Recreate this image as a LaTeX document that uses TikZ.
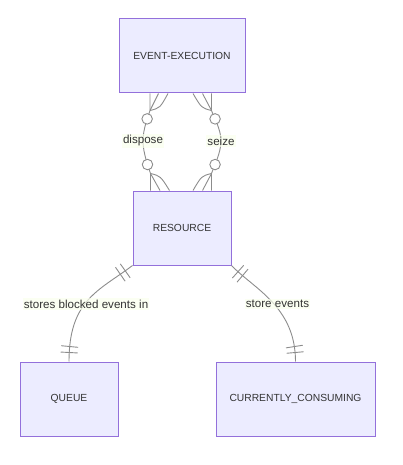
\documentclass[tikz,border=0pt]{standalone}
\usepackage{fontspec}
\setmainfont{Liberation Sans}
\usetikzlibrary{calc,decorations.markings}
\definecolor{entfill}{HTML}{ECECFF}
\definecolor{entdraw}{HTML}{9370DB}
\definecolor{relline}{HTML}{8C8C8C}
\definecolor{txt}{HTML}{333333}
\definecolor{lblbg}{RGB}{249,255,236}
\begin{document}
\begin{tikzpicture}[x=1pt,y=-1pt,
  ent/.style={draw=entdraw,fill=entfill,line width=1pt,text=txt,
    font=\fontsize{10.3pt}{12pt}\selectfont,inner sep=0pt},
  rel/.style={draw=relline,line width=0.9pt},
  lbl/.style={fill=lblbg,fill opacity=0.7,text opacity=1,text=txt,
    font=\fontsize{11.6pt}{13pt}\selectfont,inner xsep=1pt,inner ysep=1.5pt},
  zc/.style={circle,draw=relline,fill=white,line width=0.9pt,minimum size=10.5pt,inner sep=0pt},
  onebars/.style={postaction={decorate},decoration={markings,
    mark=at position 9pt with {\draw[rel] (0pt,-8.5pt) -- (0pt,8.5pt);},
    mark=at position 15pt with {\draw[rel] (0pt,-8.5pt) -- (0pt,8.5pt);},
    mark=at position -9pt with {\draw[rel] (0pt,-8.5pt) -- (0pt,8.5pt);},
    mark=at position -15pt with {\draw[rel] (0pt,-8.5pt) -- (0pt,8.5pt);}}}
]
\useasboundingbox (0,0) rectangle (402,465);

% entities
\node[ent,minimum width=126pt,minimum height=74pt] (ee) at (182,56) {EVENT-EXECUTION};
\node[ent,minimum width=98pt,minimum height=74pt] (res) at (182,228) {RESOURCE};
\node[ent,minimum width=98pt,minimum height=74pt] (queue) at (69,399) {QUEUE};
\node[ent,minimum width=159pt,minimum height=74pt] (cc) at (295.5,399) {CURRENTLY\_CONSUMING};

% anchor points of the many-to-many edges
\coordinate (dA) at ($(ee.south west)+(31.5,0)$);
\coordinate (dB) at ($(res.north west)+(18,0)$);
\coordinate (sA) at ($(ee.south west)+(93,0)$);
\coordinate (sB) at ($(res.north west)+(79,0)$);
\coordinate (dAt) at ($(dA)+(0,17)$);
\coordinate (dBt) at ($(dB)+(0,-17)$);
\coordinate (sAt) at ($(sA)+(0,17)$);
\coordinate (sBt) at ($(sB)+(0,-17)$);
\coordinate (dm) at (143,141);
\coordinate (sm) at (221,141);

% crow's feet
\draw[rel] (dAt) -- ($(dA)+(8.5,0)$);
\draw[rel] (dAt) .. controls ($(dA)+(10,14.5)$) .. ($(dA)+(18,0)$);
\draw[rel] (dBt) -- ($(dB)+(9.5,0)$);
\draw[rel] (dBt) .. controls ($(dB)+(10,-14.5)$) .. ($(dB)+(19,0)$);
\draw[rel] (sAt) -- ($(sA)+(-9,0)$);
\draw[rel] (sAt) .. controls ($(sA)+(-10,14.5)$) .. ($(sA)+(-18.5,0)$);
\draw[rel] (sBt) -- ($(sB)+(-9,0)$);
\draw[rel] (sBt) .. controls ($(sB)+(-10,-14.5)$) .. ($(sB)+(-18.5,0)$);

% dispose
\draw[rel] (dA) -- (dAt)
  .. controls +(-2,6) and +(0,-12) .. node[zc,pos=0.35] (dc1) {} (dm)
  .. controls +(0,12) and +(-2,-6) .. node[zc,pos=0.65] (dc2) {} (dBt) -- (dB);
\node[lbl] (dl) at (dm) {dispose};

% seize
\draw[rel] (sA) -- (sAt)
  .. controls +(2,6) and +(0,-12) .. node[zc,pos=0.35] (sc1) {} (sm)
  .. controls +(0,12) and +(2,-6) .. node[zc,pos=0.65] (sc2) {} (sBt) -- (sB);
\node[lbl] (sl) at (sm) {seize};

% one-to-one edges
\draw[rel,onebars] (res.south west) .. controls +(-33,25) and +(0,-62) .. (queue.north);
\draw[rel,onebars] (res.south east) .. controls +(22,23) and +(0,-55) .. (cc.north);
\node[lbl] (ql) at (86,304) {stores blocked events in};
\node[lbl] (cl) at (277.5,304) {store events};
\end{tikzpicture}
\end{document}
